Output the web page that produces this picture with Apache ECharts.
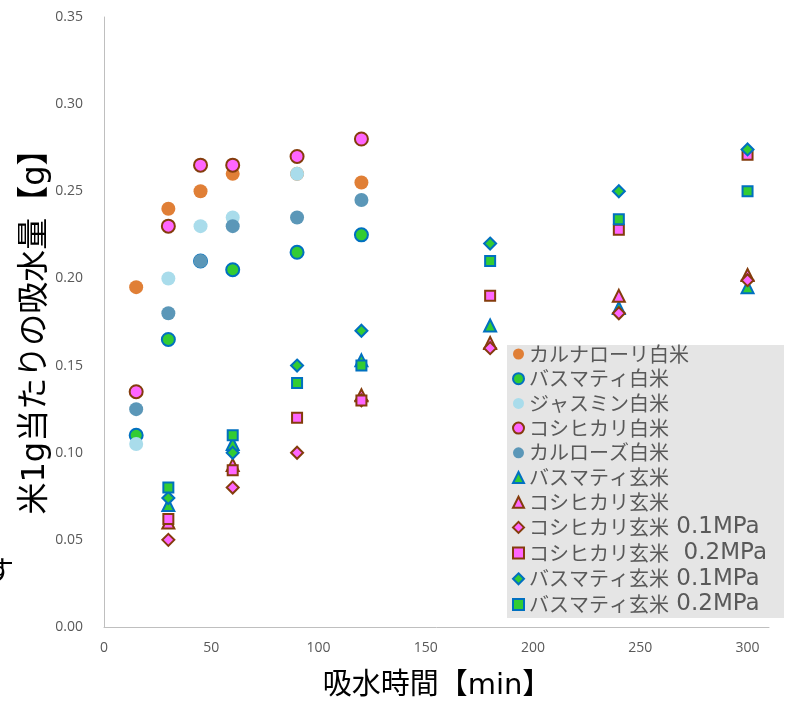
<!DOCTYPE html>
<html>
<head>
<meta charset="utf-8">
<script src="https://cdn.jsdelivr.net/npm/echarts@6/dist/echarts.min.js"></script>
<style>
html,body{margin:0;padding:0;background:#fff;}
#c{width:789px;height:702px;}
</style>
</head>
<body>
<div id="c"></div>
<script>
// ---- data ----
var whiteTimes = [15, 30, 45, 60, 90, 120];
var carnaroliWhite = [0.195, 0.24, 0.25, 0.26, 0.26, 0.255];
var basmatiWhite = [0.11, 0.165, 0.21, 0.205, 0.215, 0.225];
var jasmineWhite = [0.105, 0.20, 0.23, 0.235, 0.26, null];
var koshiWhite = [0.135, 0.23, 0.265, 0.265, 0.27, 0.28];
var calroseWhite = [0.125, 0.18, 0.21, 0.23, 0.235, 0.245];

var brownTimes = [30, 60, 90, 120, 180, 240, 300];
var basmatiBrown = [0.07, 0.105, null, 0.153, 0.173, 0.183, 0.195];
var koshiBrown = [0.06, 0.093, null, 0.133, 0.163, 0.19, 0.202];
var koshiBrown01 = [0.05, 0.08, 0.10, 0.13, 0.16, 0.18, 0.199];
var koshiBrown02 = [0.062, 0.09, 0.12, 0.13, 0.19, 0.228, 0.271];
var basmatiBrown01 = [0.074, 0.10, 0.15, 0.17, 0.22, 0.25, 0.274];
var basmatiBrown02 = [0.08, 0.11, 0.14, 0.15, 0.21, 0.234, 0.25];

var seriesNames = [
  'カルナローリ白米', 'バスマティ白米', 'ジャスミン白米', 'コシヒカリ白米', 'カルローズ白米',
  'バスマティ玄米', 'コシヒカリ玄米', 'コシヒカリ玄米 0.1MPa', 'コシヒカリ玄米  0.2MPa',
  'バスマティ玄米 0.1MPa', 'バスマティ玄米 0.2MPa'
];
var yTicks = [0, 0.05, 0.10, 0.15, 0.20, 0.25, 0.30, 0.35];
var xTicks = [0, 50, 100, 150, 200, 250, 300];

// ---- styles ----
var GREEN = '#33CC33', BLUE = '#0070C0', PINK = '#FF66FF', BROWN = '#843C0C';
function pairs(xs, ys) {
  var out = [];
  for (var i = 0; i < xs.length; i++) if (ys[i] != null) out.push([xs[i], ys[i]]);
  return out;
}
function mk(name, xs, ys, symbol, size, fill, border) {
  return {
    name: name, type: 'scatter', symbol: symbol, symbolSize: size,
    data: pairs(xs, ys),
    itemStyle: border ? {color: fill, borderColor: border, borderWidth: 2, opacity: 1}
                      : {color: fill, opacity: 1},
    emphasis: {disabled: true}
  };
}
var series = [
  mk(seriesNames[0], whiteTimes, carnaroliWhite, 'circle', 14, '#E07F36'),
  mk(seriesNames[1], whiteTimes, basmatiWhite, 'circle', 13, GREEN, BLUE),
  mk(seriesNames[2], whiteTimes, jasmineWhite, 'circle', 14, '#A9DCEB'),
  mk(seriesNames[3], whiteTimes, koshiWhite, 'circle', 13, PINK, BROWN),
  mk(seriesNames[4], whiteTimes, calroseWhite, 'circle', 14, '#5B97B8'),
  mk(seriesNames[5], brownTimes, basmatiBrown, 'triangle', 12, GREEN, BLUE),
  mk(seriesNames[6], brownTimes, koshiBrown, 'triangle', 12, PINK, BROWN),
  mk(seriesNames[7], brownTimes, koshiBrown01, 'diamond', 12, PINK, BROWN),
  mk(seriesNames[8], brownTimes, koshiBrown02, 'rect', 10, PINK, BROWN),
  mk(seriesNames[9], brownTimes, basmatiBrown01, 'diamond', 12, GREEN, BLUE),
  mk(seriesNames[10], brownTimes, basmatiBrown02, 'rect', 10, GREEN, BLUE)
];

var FONT = '"Noto Sans CJK JP", "Noto Sans", sans-serif';
var LFONT = '"DejaVu Sans", "Noto Sans CJK JP", sans-serif';
var TFONT = '"Open Sans", "Noto Sans", sans-serif';

function legendFmt(name) {
  var m = name.match(/^(\S+)(\s+.*)?$/);
  if (!m || !m[2]) return '{c|' + name + '}';
  return '{c|' + m[1] + '}{l|' + m[2] + '}';
}

var chart = echarts.init(document.getElementById('c'), null, {renderer: 'canvas'});
chart.setOption({
  animation: false,
  backgroundColor: '#fff',
  textStyle: {fontFamily: FONT},
  grid: {left: 104, top: 17, right: 20, bottom: 75, containLabel: false},
  xAxis: {
    type: 'value', min: 0, max: 310, interval: 50,
    axisLine: {show: true, lineStyle: {color: '#BFBFBF', width: 1}},
    axisTick: {show: false},
    splitLine: {show: false},
    axisLabel: {
      color: '#595959', fontSize: 14, margin: 14, fontFamily: TFONT,
      showMaxLabel: false,
      formatter: function (v) { return xTicks.indexOf(v) >= 0 ? String(v) : ''; }
    }
  },
  yAxis: {
    type: 'value', min: 0, max: 0.35, interval: 0.05,
    axisLine: {show: true, lineStyle: {color: '#BFBFBF', width: 1}},
    axisTick: {show: false},
    splitLine: {show: false},
    axisLabel: {
      color: '#595959', fontSize: 14, margin: 21, fontFamily: TFONT,
      formatter: function (v) {
        for (var i = 0; i < yTicks.length; i++) if (Math.abs(yTicks[i] - v) < 1e-9) return yTicks[i].toFixed(2);
        return '';
      }
    }
  },
  legend: {
    orient: 'vertical', left: 512, top: 343,
    itemWidth: 11, itemHeight: 11, itemGap: 2.7,
    padding: 0,
    formatter: legendFmt,
    textStyle: {
      color: '#595959', fontSize: 20, lineHeight: 22, fontFamily: LFONT, padding: [0, 0, 0, 0],
      rich: {
        c: {color: '#595959', fontSize: 20, lineHeight: 22, fontFamily: FONT},
        l: {color: '#595959', fontSize: 23, lineHeight: 22, fontFamily: LFONT}
      }
    },
    data: seriesNames.map(function (n) { return {name: n}; })
  },
  graphic: [
    {type: 'rect', shape: {x: 507, y: 345, width: 277, height: 273}, style: {fill: '#E5E5E5'}, z: -1, silent: true},
    {type: 'text', x: 36, y: 324, rotation: Math.PI / 2, style: {
      text: '米1g当たりの吸水量【g】', fill: '#000', font: '32px ' + LFONT,
      textAlign: 'center', textVerticalAlign: 'middle'}, z: 10},
    {type: 'text', x: 437, y: 686, style: {
      text: '吸水時間【min】', fill: '#000', font: '29px ' + LFONT,
      textAlign: 'center', textVerticalAlign: 'middle'}, z: 10},
    {type: 'text', x: -14, y: 570, style: {
      text: 'す', fill: '#000', font: '28px ' + FONT,
      textAlign: 'left', textVerticalAlign: 'middle'}, z: 10}
  ],
  series: series
});
</script>
</body>
</html>
